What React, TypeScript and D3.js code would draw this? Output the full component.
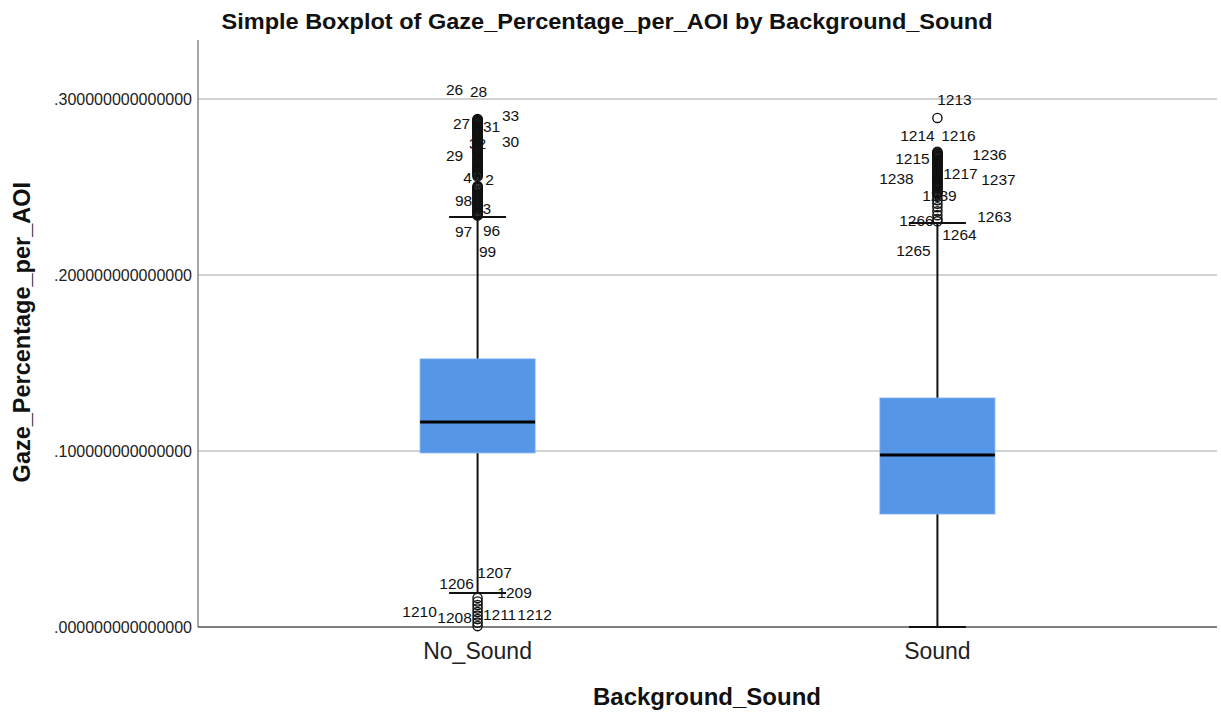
import React from "react";
import * as d3 from "d3";

// ---------- data ----------
const categories = ["No_Sound", "Sound"];
const q1 = [0.0989, 0.0642];
const medians = [0.1165, 0.0977];
const q3 = [0.1523, 0.1301];
const whiskerLow = [0.0193, 0.0];
const whiskerHigh = [0.233, 0.2295];

const noSoundOutliers = [
  0.2886, 0.2882, 0.288, 0.2875, 0.2871, 0.2868, 0.2864, 0.286, 0.2855, 0.2851,
  0.2847, 0.2843, 0.2839, 0.2835, 0.283, 0.2826, 0.2821, 0.2815, 0.281, 0.2806,
  0.2801, 0.2797, 0.2792, 0.2788, 0.2782, 0.2776, 0.277, 0.2765, 0.276, 0.2754,
  0.2748, 0.2741, 0.2736, 0.273, 0.2724, 0.2718, 0.2711, 0.2705, 0.2698, 0.2692,
  0.2686, 0.268, 0.2674, 0.2668, 0.2661, 0.2655, 0.2648, 0.2641, 0.2635, 0.2628,
  0.2621, 0.2615, 0.2609, 0.2603, 0.2596, 0.259, 0.2584, 0.2578, 0.2572, 0.2566,
  0.256, 0.2505, 0.25, 0.2496, 0.2492, 0.2486, 0.248, 0.2475, 0.247, 0.2464,
  0.2458, 0.2452, 0.2447, 0.2441, 0.2436, 0.243, 0.2425, 0.242, 0.2412, 0.2406,
  0.24, 0.2395, 0.239, 0.2384, 0.2378, 0.2372, 0.2366, 0.236, 0.2355, 0.235,
  0.2345, 0.2341, 0.2338,
  0.0165, 0.0145, 0.0125, 0.0105, 0.0085, 0.0065, 0.0045, 0.0025, 0.0005,
];
const soundOutliers = [
  0.2892, 0.27, 0.2695, 0.269, 0.2685, 0.268, 0.2676, 0.2671, 0.2666, 0.2662,
  0.2657, 0.2652, 0.2646, 0.2641, 0.2636, 0.263, 0.2625, 0.262, 0.2615, 0.261,
  0.2604, 0.2598, 0.2592, 0.2586, 0.258, 0.2575, 0.2568, 0.2562, 0.2556, 0.255,
  0.2544, 0.2538, 0.2531, 0.2525, 0.2518, 0.2512, 0.2506, 0.25, 0.2493, 0.2486,
  0.2479, 0.2472, 0.2465, 0.2458, 0.2445, 0.2425, 0.2405, 0.2385, 0.2362, 0.234,
  0.2318, 0.2305,
];
const outliers = [noSoundOutliers, soundOutliers];

// case labels: [id, category index, value of labelled case]
const caseLabels: [string, number, number][] = [
  ["26", 0, 0.2886], ["28", 0, 0.288], ["27", 0, 0.286], ["31", 0, 0.2843],
  ["33", 0, 0.2875], ["30", 0, 0.2815], ["32", 0, 0.2754], ["29", 0, 0.268],
  ["4", 0, 0.256], ["2", 0, 0.256], ["98", 0, 0.242], ["93", 0, 0.2378],
  ["97", 0, 0.2338], ["96", 0, 0.2338], ["99", 0, 0.2338],
  ["1207", 0, 0.0165], ["1206", 0, 0.0165], ["1209", 0, 0.0165], ["1210", 0, 0.0165],
  ["1208", 0, 0.0165], ["1211", 0, 0.0165], ["1212", 0, 0.0165],
  ["1213", 1, 0.2892], ["1214", 1, 0.27], ["1216", 1, 0.27], ["1215", 1, 0.268],
  ["1236", 1, 0.268], ["1217", 1, 0.262], ["1237", 1, 0.262], ["1238", 1, 0.262],
  ["1239", 1, 0.2486], ["1266", 1, 0.2305], ["1263", 1, 0.2305], ["1264", 1, 0.2305],
  ["1265", 1, 0.2305],
];

const yTicks = [0, 0.1, 0.2, 0.3];

// ---------- layout (label offsets from their case, px) ----------
const labelOffsets: Record<string, [number, number]> = {
  "26": [-23, -29], "28": [1, -29], "27": [-16, 0], "31": [14, 0], "33": [33, -5],
  "30": [33, 10], "32": [0, 1], "29": [-23, 0], "4": [-10, 1], "2": [12, 3],
  "98": [-14, 0], "93": [5, 0], "97": [-14, 16], "96": [14, 15], "99": [10, 36],
  "1207": [17, -25], "1206": [-21, -14], "1209": [37, -5], "1210": [-58, 14],
  "1208": [-23, 20], "1211": [22, 17], "1212": [57, 17],
  "1213": [17, -18], "1214": [-20, -16], "1216": [21, -16], "1215": [-25, 3],
  "1236": [52, -1], "1217": [23, 8], "1237": [61, 14], "1238": [-41, 13],
  "1239": [2, 6], "1266": [-21, -1], "1263": [57, -5], "1264": [22, 13],
  "1265": [-24, 29],
};

if (typeof document !== "undefined") {
  document.body.style.margin = "0";
}

const W = 1221;
const H = 715;
const left = 198;
const right = 1217;
const top = 40;
const bottom = 627;
const FONT = "'Liberation Sans', Arial, sans-serif";

export default function App() {
  const x = d3.scalePoint<string>().domain(categories).range([left, right]).padding(0.608);
  const y = d3.scaleLinear().domain([0, 0.3335]).range([bottom, top]);
  const fmt = (v: number) => d3.format(".15f")(v).replace(/^0/, "");
  const boxW = 115;
  const capW = 57;

  return (
    <svg width={W} height={H} style={{ display: "block", background: "#fff" }} fontFamily={FONT}>
      {/* gridlines */}
      {yTicks.filter((t) => t > 0).map((t) => (
        <line key={t} x1={left} x2={right} y1={y(t)} y2={y(t)} stroke="#c4c4c4" strokeWidth={1.5} />
      ))}
      {/* axes */}
      <line x1={left} x2={left} y1={top} y2={bottom} stroke="#888" strokeWidth={1.5} />
      <line x1={left} x2={right} y1={bottom} y2={bottom} stroke="#555" strokeWidth={1.5} />
      {/* y tick labels */}
      {yTicks.map((t) => (
        <text key={"l" + t} x={192} y={y(t)} dy="0.35em" textAnchor="end" fontSize={16} fill="#222">
          {fmt(t)}
        </text>
      ))}

      {categories.map((c, i) => {
        const cx = x(c)!;
        return (
          <g key={c}>
            {/* whiskers */}
            <line x1={cx} x2={cx} y1={y(whiskerHigh[i])} y2={y(q3[i])} stroke="#111" strokeWidth={2} />
            <line x1={cx} x2={cx} y1={y(q1[i])} y2={y(whiskerLow[i])} stroke="#111" strokeWidth={2} />
            <line x1={cx - capW / 2} x2={cx + capW / 2} y1={y(whiskerHigh[i])} y2={y(whiskerHigh[i])} stroke="#111" strokeWidth={2} />
            <line x1={cx - capW / 2} x2={cx + capW / 2} y1={y(whiskerLow[i])} y2={y(whiskerLow[i])} stroke="#111" strokeWidth={2} />
            {/* box */}
            <rect x={cx - boxW / 2} y={y(q3[i])} width={boxW} height={y(q1[i]) - y(q3[i])} fill="#5596e6" stroke="#7aaef0" strokeWidth={0.8} />
            <line x1={cx - boxW / 2} x2={cx + boxW / 2} y1={y(medians[i])} y2={y(medians[i])} stroke="#000" strokeWidth={3} />
            {/* outliers */}
            {outliers[i].map((v, k) => (
              <circle key={k} cx={cx} cy={y(v)} r={4.6} fill="none" stroke="#111" strokeWidth={1.4} />
            ))}
          </g>
        );
      })}

      {/* case labels */}
      {caseLabels.map(([id, ci, v]) => {
        const [dx, dy] = labelOffsets[id] || [0, 0];
        return (
          <text key={id} x={x(categories[ci])! + dx} y={y(v) + dy} dy="0.35em" textAnchor="middle" fontSize={15.5} fill="#111">
            {id}
          </text>
        );
      })}

      {/* category labels */}
      {categories.map((c) => (
        <text key={"c" + c} x={x(c)!} y={651} dy="0.35em" textAnchor="middle" fontSize={23} fill="#222">
          {c}
        </text>
      ))}

      {/* titles */}
      <text x={607} y={21} dy="0.35em" textAnchor="middle" fontSize={22} fontWeight="bold" fill="#111" textLength={771} lengthAdjust="spacingAndGlyphs">
        Simple Boxplot of Gaze_Percentage_per_AOI by Background_Sound
      </text>
      <text x={707} y={697} dy="0.35em" textAnchor="middle" fontSize={24} fontWeight="bold" fill="#111">
        Background_Sound
      </text>
      <text transform={`translate(22,${y(0.1675)}) rotate(-90)`} dy="0.35em" textAnchor="middle" fontSize={23.5} fontWeight="bold" fill="#111">
        Gaze_Percentage_per_AOI
      </text>
    </svg>
  );
}
